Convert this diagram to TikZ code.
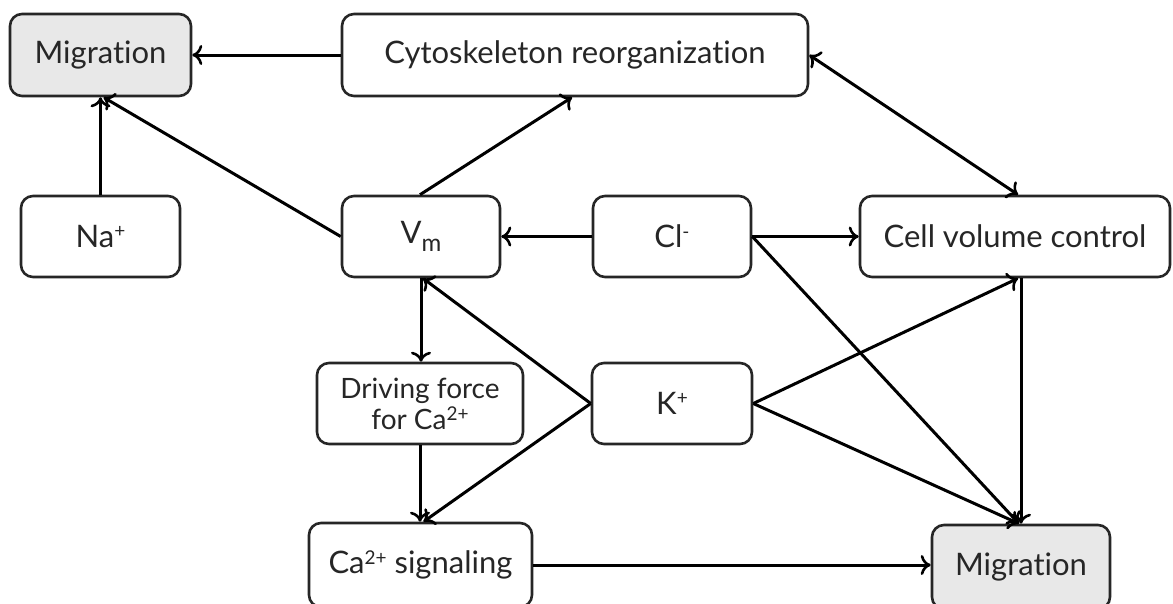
\documentclass[tikz,border=0pt]{standalone}
\usepackage{fontspec}
\setmainfont[Ligatures={NoCommon,NoRare,NoContextual}]{Lato}
\usetikzlibrary{arrows.meta,calc}
\definecolor{boxgray}{HTML}{E8E8E8}
\newcommand{\upidx}[1]{\raisebox{0.62ex}{\fontsize{19}{19}\selectfont #1}}
\newcommand{\downidx}[1]{\raisebox{-0.55ex}{\fontsize{24}{24}\selectfont #1}}
\tikzset{
  box/.style={draw=black!85, line width=2.6pt, rounded corners=12pt, fill=white,
    inner sep=0pt, align=center, text=black!85, font=\fontsize{31}{34}\selectfont},
  hl/.style={box, fill=boxgray},
  link/.style={line width=3pt, -{To[length=10pt,width=20pt,line width=2.6pt]}},
  dlink/.style={line width=3pt, {To[length=10pt,width=20pt,line width=2.6pt]}-{To[length=10pt,width=20pt,line width=2.6pt]}}
}
\begin{document}
\begin{tikzpicture}[x=1pt,y=-1pt]
\useasboundingbox (0,0) rectangle (1173,603);
% boxes
\node[hl, minimum width=181pt, minimum height=82pt] (mig1) at (100.5,55) {Migration};
\node[box, minimum width=466pt, minimum height=82pt] (cyto) at (575,55) {Cytoskeleton reorganization};
\node[box, minimum width=159pt, minimum height=81pt] (na) at (100.5,236.5) {Na\upidx{+}};
\node[box, minimum width=158pt, minimum height=81pt] (vm) at (421,236.5) {V\downidx{m}};
\node[box, minimum width=158pt, minimum height=81pt] (cl) at (672,236.5) {Cl\upidx{-}};
\node[box, minimum width=310pt, minimum height=81pt] (cvc) at (1015,236.5) {Cell volume control};
\node[box, minimum width=206pt, minimum height=81pt, font=\fontsize{28}{31}\selectfont] (drv) at (420,403.5) {Driving force\\for Ca\upidx{2+}};
\node[box, minimum width=160pt, minimum height=81pt] (kp) at (672,403.5) {K\upidx{+}};
\node[box, minimum width=223pt, minimum height=84pt] (ca) at (420.5,565) {Ca\upidx{2+} signaling};
\node[hl, minimum width=178pt, minimum height=84pt] (mig2) at (1021,567) {Migration};
% connectors
\draw[link] (cyto.west) -- (mig1.east);
\draw[link] (na.north) -- (mig1.south);
\draw[link] (vm.west) -- ([xshift=3pt]mig1.south);
\draw[link] ([xshift=-1pt]vm.north) -- ([xshift=-3pt]cyto.south);
\draw[dlink] (cyto.east) -- ([xshift=3pt]cvc.north);
\draw[link] (cl.west) -- (vm.east);
\draw[link] (cl.east) -- (cvc.west);
\draw[link] (cl.east) -- ([xshift=-2pt]mig2.north);
\draw[link] (vm.south) -- (vm.south |- drv.north);
\draw[link] (kp.west) -- ([xshift=2pt]vm.south);
\draw[link] (kp.west) -- ([xshift=3pt]ca.north);
\draw[link] (drv.south) -- (drv.south |- ca.north);
\draw[link] (kp.east) -- ([xshift=3pt]cvc.south);
\draw[link] (kp.east) -- ([xshift=-2pt]mig2.north);
\draw[link] (mig2.north |- cvc.south) -- (mig2.north);
\draw[link] (ca.east) -- (ca.east -| mig2.west);
\end{tikzpicture}
\end{document}
